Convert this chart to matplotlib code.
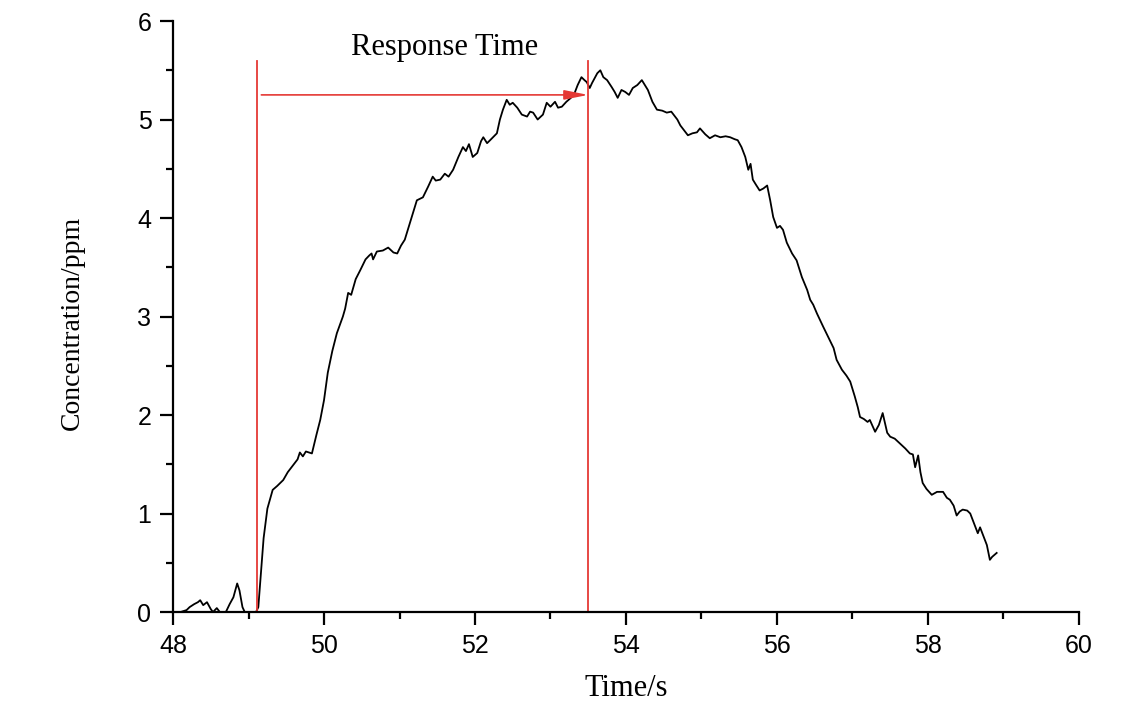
import numpy as np
import matplotlib
matplotlib.use('Agg')
import matplotlib.pyplot as plt
from matplotlib.ticker import MultipleLocator

# Data
time_s = [48.10, 48.18, 48.22, 48.28, 48.33, 48.36, 48.40, 48.45, 48.50, 48.53,
          48.58, 48.62, 48.70, 48.75, 48.80, 48.85, 48.88, 48.92, 48.95, 49.10,
          49.13, 49.17, 49.20, 49.25, 49.32, 49.38, 49.46, 49.52, 49.59, 49.65,
          49.68, 49.72, 49.76, 49.84, 49.90, 49.95, 50.00, 50.05, 50.11, 50.17,
          50.25, 50.28, 50.32, 50.36, 50.42, 50.48, 50.55, 50.60, 50.63, 50.65,
          50.70, 50.78, 50.85, 50.92, 50.97, 51.02, 51.07, 51.15, 51.23, 51.31,
          51.38, 51.44, 51.48, 51.54, 51.60, 51.65, 51.71, 51.78, 51.84, 51.88,
          51.92, 51.97, 52.03, 52.08, 52.11, 52.16, 52.20, 52.29, 52.33, 52.37,
          52.42, 52.46, 52.50, 52.56, 52.62, 52.69, 52.73, 52.77, 52.83, 52.90,
          52.95, 53.00, 53.06, 53.10, 53.15, 53.21, 53.27, 53.32, 53.36, 53.41,
          53.45, 53.48, 53.52, 53.55, 53.62, 53.66, 53.70, 53.75, 53.81, 53.85,
          53.89, 53.94, 53.99, 54.04, 54.09, 54.15, 54.21, 54.25, 54.29, 54.35,
          54.41, 54.48, 54.54, 54.60, 54.68, 54.72, 54.78, 54.82, 54.88, 54.94,
          54.98, 55.05, 55.11, 55.18, 55.25, 55.32, 55.38, 55.44, 55.48, 55.53,
          55.58, 55.62, 55.65, 55.68, 55.72, 55.77, 55.82, 55.87, 55.91, 55.95,
          56.00, 56.04, 56.08, 56.13, 56.20, 56.26, 56.33, 56.40, 56.44, 56.48,
          56.53, 56.61, 56.70, 56.75, 56.79, 56.86, 56.92, 56.97, 57.03, 57.07,
          57.10, 57.15, 57.20, 57.23, 57.27, 57.30, 57.35, 57.40, 57.43, 57.46,
          57.50, 57.56, 57.63, 57.70, 57.76, 57.80, 57.83, 57.87, 57.90, 57.93,
          57.98, 58.05, 58.12, 58.20, 58.25, 58.29, 58.34, 58.38, 58.42, 58.46,
          58.52, 58.56, 58.60, 58.66, 58.69, 58.73, 58.78, 58.82, 58.85, 58.88,
          58.91]
conc_ppm = [0.00, 0.02, 0.05, 0.08, 0.10, 0.12, 0.07, 0.10, 0.03, 0.00,
            0.04, 0.00, 0.00, 0.08, 0.15, 0.29, 0.22, 0.05, 0.00, 0.00,
            0.05, 0.45, 0.75, 1.05, 1.24, 1.28, 1.34, 1.42, 1.49, 1.55,
            1.62, 1.58, 1.63, 1.61, 1.80, 1.95, 2.15, 2.43, 2.65, 2.83,
            3.00, 3.08, 3.24, 3.22, 3.38, 3.47, 3.58, 3.62, 3.64, 3.58,
            3.66, 3.67, 3.70, 3.65, 3.64, 3.72, 3.78, 3.98, 4.18, 4.21,
            4.32, 4.42, 4.38, 4.39, 4.45, 4.42, 4.49, 4.62, 4.72, 4.68,
            4.75, 4.62, 4.66, 4.78, 4.82, 4.76, 4.79, 4.86, 5.00, 5.10,
            5.20, 5.15, 5.17, 5.12, 5.05, 5.03, 5.08, 5.07, 5.00, 5.05,
            5.17, 5.13, 5.18, 5.12, 5.13, 5.18, 5.22, 5.27, 5.35, 5.43,
            5.40, 5.38, 5.32, 5.37, 5.47, 5.50, 5.43, 5.40, 5.33, 5.28,
            5.22, 5.30, 5.28, 5.25, 5.32, 5.35, 5.40, 5.35, 5.30, 5.18,
            5.10, 5.09, 5.07, 5.08, 5.00, 4.94, 4.88, 4.84, 4.86, 4.87,
            4.91, 4.85, 4.81, 4.84, 4.82, 4.83, 4.82, 4.80, 4.79, 4.72,
            4.62, 4.49, 4.55, 4.39, 4.34, 4.28, 4.30, 4.33, 4.18, 4.01,
            3.90, 3.92, 3.88, 3.75, 3.64, 3.57, 3.40, 3.27, 3.17, 3.12,
            3.03, 2.90, 2.76, 2.68, 2.56, 2.46, 2.40, 2.34, 2.19, 2.08,
            1.98, 1.96, 1.93, 1.95, 1.88, 1.83, 1.90, 2.02, 1.92, 1.82,
            1.78, 1.76, 1.71, 1.66, 1.61, 1.60, 1.47, 1.59, 1.42, 1.31,
            1.25, 1.19, 1.22, 1.22, 1.16, 1.14, 1.08, 0.98, 1.02, 1.04,
            1.03, 1.00, 0.92, 0.80, 0.86, 0.78, 0.68, 0.53, 0.56, 0.58,
            0.60]

t_start = 49.11
t_end = 53.50
marker_top = 5.59
arrow_level = 5.25

red = '#e53935'
serif = 'Liberation Serif'
sans = 'Liberation Sans'

fig = plt.figure(figsize=(11.42, 7.03), dpi=100)
ax = fig.add_axes([0.1515, 0.1294, 0.7933, 0.8407])

ax.plot(time_s, conc_ppm, '-', color='black', linewidth=1.3)

# Response time markers
ax.plot([t_start, t_start], [0, marker_top], color=red, linewidth=1.3)
ax.plot([t_end, t_end], [0, marker_top], color=red, linewidth=1.3)
ax.annotate('', xy=(t_end, arrow_level), xytext=(t_start + 0.06, arrow_level),
            arrowprops=dict(arrowstyle='-|>,head_length=0.8,head_width=0.16',
                            mutation_scale=18, color=red, lw=1.2,
                            shrinkA=0, shrinkB=0))
ax.text(51.6, 5.73, 'Response Time', ha='center', va='center',
        fontsize=22, fontfamily=serif)

ax.set_xlim(48, 60)
ax.set_ylim(0, 6)
ax.xaxis.set_major_locator(MultipleLocator(2))
ax.xaxis.set_minor_locator(MultipleLocator(1))
ax.yaxis.set_major_locator(MultipleLocator(1))
ax.yaxis.set_minor_locator(MultipleLocator(0.5))

for s in ['top', 'right']:
    ax.spines[s].set_visible(False)
for s in ['left', 'bottom']:
    ax.spines[s].set_linewidth(1.6)

ax.tick_params(which='major', direction='out', length=9.5, width=1.6,
               labelsize=18, pad=6)
ax.tick_params(which='minor', direction='out', length=5, width=1.6)
for lab in ax.get_xticklabels() + ax.get_yticklabels():
    lab.set_fontfamily(sans)

ax.set_xlabel('Time/s', fontsize=22, fontfamily=serif)
ax.set_ylabel('Concentration/ppm', fontsize=20, fontfamily=serif)
ax.xaxis.set_label_coords(0.5, -0.105)
ax.yaxis.set_label_coords(-0.097, 0.49)

plt.savefig('out.png', dpi=100)
plt.close()
